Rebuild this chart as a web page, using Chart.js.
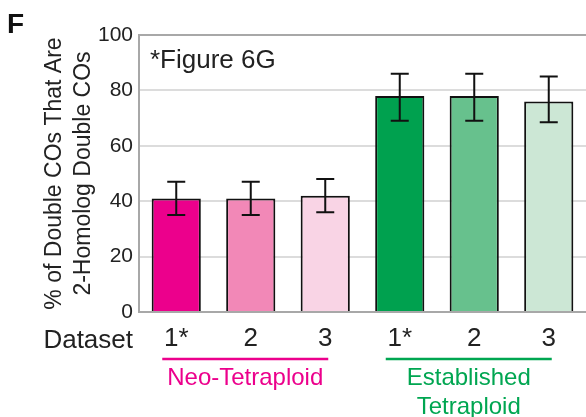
<!DOCTYPE html>
<html>
<head>
<meta charset="utf-8">
<script src="https://cdn.jsdelivr.net/npm/chart.js@4.4.1/dist/chart.umd.min.js"></script>
<style>
  body { margin: 0; background: #fff; overflow: hidden; }
</style>
</head>
<body>
<canvas id="chart" width="586" height="417"></canvas>
<script>
// data
var categories = ["1*", "2", "3", "1*", "2", "3"];
var values = [41, 41, 42, 78, 78, 76];
var errHigh = [47, 47, 48, 86, 86, 85];
var errLow = [35, 35, 36, 69, 69, 68.5];
var yTicks = [0, 20, 40, 60, 80, 100];
var groups = [
  { lines: ["Neo-Tetraploid"], first: 0, last: 2, color: "#ec008c" },
  { lines: ["Established", "Tetraploid"], first: 3, last: 5, color: "#00a651" }
];

var barColors = ["#ec008c", "#f288b7", "#f9d4e5", "#00a14f", "#67c18d", "#cce7d5"];
var FONT = "'Liberation Sans', Arial, Helvetica, sans-serif";

// error bars + extra labels
var extras = {
  id: "extras",
  afterDatasetsDraw: function(chart) {
    var ctx = chart.ctx;
    var y = chart.scales.y;
    var meta = chart.getDatasetMeta(0);
    ctx.save();
    ctx.strokeStyle = "#111";
    ctx.lineWidth = 2;
    meta.data.forEach(function(bar, i) {
      var hi = y.getPixelForValue(errHigh[i]);
      var lo = y.getPixelForValue(errLow[i]);
      ctx.beginPath();
      ctx.moveTo(bar.x, hi); ctx.lineTo(bar.x, lo);
      ctx.moveTo(bar.x - 9, hi); ctx.lineTo(bar.x + 9, hi);
      ctx.moveTo(bar.x - 9, lo); ctx.lineTo(bar.x + 9, lo);
      ctx.stroke();
    });
    ctx.restore();
  },
  afterDraw: function(chart) {
    var ctx = chart.ctx;
    var x = chart.scales.x;
    ctx.save();
    ctx.textBaseline = "alphabetic";

    ctx.fillStyle = "#111";
    ctx.font = "bold 28px " + FONT;
    ctx.textAlign = "left";
    ctx.fillText("F", 7, 33);

    ctx.fillStyle = "#222";
    ctx.font = "26px " + FONT;
    ctx.fillText("*Figure 6G", 150, 68);

    ctx.font = "26px " + FONT;
    ctx.textAlign = "right";
    ctx.fillText("Dataset", 133, 348);

    groups.forEach(function(g) {
      var x0 = x.getPixelForValue(g.first) - 14;
      var x1 = x.getPixelForValue(g.last) + 3;
      ctx.strokeStyle = g.color;
      ctx.lineWidth = 2.5;
      ctx.beginPath();
      ctx.moveTo(x0, 359); ctx.lineTo(x1, 359);
      ctx.stroke();
      ctx.fillStyle = g.color;
      ctx.font = "24px " + FONT;
      ctx.textAlign = "center";
      g.lines.forEach(function(t, k) {
        ctx.fillText(t, (x0 + x1) / 2, 385 + k * 29);
      });
    });
    ctx.restore();
  }
};

new Chart(document.getElementById("chart"), {
  type: "bar",
  data: {
    labels: categories,
    datasets: [{
      data: values,
      backgroundColor: barColors,
      borderColor: "#111",
      borderWidth: 2,
      barPercentage: 0.66,
      categoryPercentage: 1
    }]
  },
  options: {
    responsive: false,
    animation: false,
    devicePixelRatio: 1,
    layout: { padding: { top: 35, left: 0, right: 0, bottom: 0 } },
    plugins: {
      legend: { display: false },
      tooltip: { enabled: false }
    },
    scales: {
      x: {
        grid: { display: false },
        border: { color: "#a8a8a8", width: 2 },
        ticks: { color: "#222", font: { family: FONT, size: 26 }, padding: 3, maxRotation: 0 },
        afterFit: function(s) { s.height = 105; }
      },
      y: {
        min: 0,
        max: 100,
        afterBuildTicks: function(s) { s.ticks = yTicks.map(function(v) { return { value: v }; }); },
        grid: {
          drawTicks: false,
          lineWidth: 2,
          color: function(c) { return c.tick && c.tick.value === 100 ? "#a8a8a8" : "#dcdcdc"; }
        },
        border: { color: "#a8a8a8", width: 2 },
        ticks: { color: "#222", font: { family: FONT, size: 21 }, padding: 6 },
        title: {
          display: true,
          text: ["% of Double COs That Are", "2-Homolog Double COs"],
          color: "#222",
          font: { family: FONT, size: 23, lineHeight: 1.26 },
          padding: { top: 40, bottom: 0 }
        },
        afterFit: function(s) { s.width = 139; }
      }
    }
  },
  plugins: [extras]
});
</script>
</body>
</html>
